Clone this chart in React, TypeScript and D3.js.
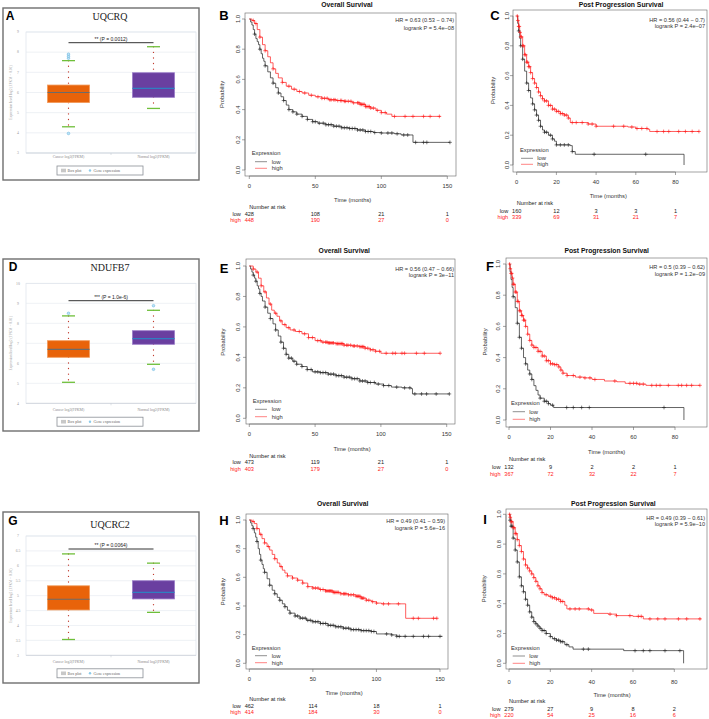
import React from 'react';
import * as d3 from 'd3';

// ================= Box plot data (panels A, D, G) =================
const boxGenes = ['UQCRQ', 'NDUFB7', 'UQCRC2'];
const boxLetters = ['A', 'D', 'G'];
const boxCategories = ['Cancer log2(FPKM)', 'Normal log2(FPKM)'];
const boxSigLabels = ['** (P = 0.0012)', '*** (P = 1.0e-6)', '** (P = 0.0064)'];
const boxYTicksA = [3, 4, 5, 6, 7, 8, 9];
const boxYTicksD = [4, 5, 6, 7, 8, 9, 10];
const boxYTicksG = [3, 3.5, 4, 4.5, 5, 5.5, 6, 6.5, 7];
// [lower whisker, q1, median, q3, upper whisker]
const uqcrqCancer = [4.3, 5.5, 6.0, 6.37, 7.58];
const uqcrqNormal = [5.21, 5.76, 6.2, 6.98, 8.27];
const uqcrqCancerOut = [7.7, 7.8, 7.9, 3.97];
const uqcrqNormalOut: number[] = [];
const ndufb7Cancer = [5.05, 6.3, 6.7, 7.13, 8.37];
const ndufb7Normal = [5.95, 6.95, 7.23, 7.63, 8.65];
const ndufb7CancerOut = [8.5];
const ndufb7NormalOut = [8.88, 5.7];
const uqcrc2Cancer = [3.53, 4.52, 4.88, 5.33, 6.4];
const uqcrc2Normal = [4.44, 4.89, 5.11, 5.5, 6.09];
const uqcrc2CancerOut: number[] = [];
const uqcrc2NormalOut: number[] = [];

// ================= KM data (panels B, C, E, F, H, I) =================
const osTicks = [0, 50, 100, 150];
const ppsTicks = [0, 20, 40, 60, 80];
const probTicks = [0, 0.2, 0.4, 0.6, 0.8, 1.0];
const kmTitles = ['Overall  Survival', 'Post Progression Survival'];

// B: UQCRQ OS
const bLow = [[0,1],[1,0.98],[2,0.96],[3,0.93],[4,0.9],[5,0.87],[6,0.85],[7,0.83],[8,0.8],[9,0.77],[10,0.74],[11,0.72],[12,0.69],[14,0.65],[16,0.61],[18,0.575],[20,0.545],[22,0.51],[24,0.485],[26,0.46],[28,0.43],[30,0.4],[33,0.385],[36,0.37],[40,0.355],[44,0.335],[48,0.32],[52,0.31],[58,0.3],[64,0.29],[70,0.28],[76,0.275],[82,0.265],[88,0.255],[94,0.248],[100,0.245],[110,0.24],[115,0.232],[124,0.183],[152,0.183]];
const bHigh = [[0,1],[2,0.99],[4,0.97],[6,0.93],[8,0.88],[10,0.83],[12,0.79],[14,0.75],[16,0.71],[18,0.67],[20,0.64],[22,0.61],[25,0.58],[28,0.555],[32,0.535],[36,0.52],[40,0.51],[45,0.495],[50,0.485],[55,0.475],[60,0.465],[66,0.46],[72,0.455],[78,0.445],[84,0.435],[88,0.42],[92,0.41],[96,0.395],[100,0.38],[104,0.37],[108,0.355],[145,0.355]];
const bLowCens = [4,8,12,18,22,26,30,33,36,40,44,48,50,53,56,58,60,62,64,66,68,70,72,74,76,78,80,82,84,86,88,90,92,95,100,105,108,112,117,120,126,132,134.5,152];
const bHighCens = [3,5,8,12,18,25,30,34,38,42,47,52,55,57,59,61,62,64,65,67,69,70,72,73,75,77,79,82,83,84,85,86,87,88,89,90,91,92,94,97,100,103,110,118,124,132,137,144];
const bRiskLow = ['428', '108', '21', '1'];
const bRiskHigh = ['448', '190', '27', '0'];
const bHR = ['HR = 0.63 (0.53 \u2212 0.74)', 'logrank P = 5.4e\u221208'];

// C: UQCRQ PPS
const cLow = [[0,1],[0.5,0.95],[1,0.9],[1.5,0.85],[2,0.8],[3,0.71],[4,0.63],[5,0.55],[6,0.5],[7,0.45],[8,0.41],[9,0.37],[10,0.335],[11,0.3],[12,0.26],[13,0.235],[14,0.22],[16,0.2],[18,0.175],[19,0.16],[20,0.135],[27,0.13],[28,0.09],[29.5,0.072],[84.3,0]];
const cHigh = [[0,1],[0.5,0.97],[1,0.93],[1.5,0.89],[2,0.86],[3,0.8],[4,0.74],[5,0.69],[6,0.66],[7,0.62],[8,0.58],[9,0.55],[10,0.52],[11,0.49],[12,0.465],[13,0.445],[14,0.43],[16,0.4],[18,0.375],[20,0.36],[22,0.345],[24,0.335],[26,0.315],[27,0.285],[36,0.275],[40,0.26],[56,0.255],[60,0.245],[66,0.24],[67,0.225],[92,0.225]];
const cLowCens = [1,2,3,5,6,8,9,10,11,12,14,15,17,18,20,22,24,26,28,39,65];
const cHighCens = [0.3,0.6,1,1.3,1.7,2,2.4,3,3.5,4,4.5,5,5.5,6,6.5,7,8,9,10,11,12,13,14,15,16,17,18,19,20,21,22,23,24,25,26,28,30,33,36,38,40,48.8,53.9,58,60.6,63,65.6,70.7,74,76.6,81.6,85,88.4,91.8];
const cRiskLow = ['160', '12', '3', '3', '1'];
const cRiskHigh = ['339', '69', '31', '21', '7'];
const cHR = ['HR = 0.56 (0.44 \u2212 0.7)', 'logrank P = 2.4e\u221207'];

// E: NDUFB7 OS
const eLow = [[0,1],[1,0.98],[2,0.96],[3,0.94],[4,0.92],[5,0.9],[6,0.87],[7,0.85],[8,0.82],[9,0.8],[10,0.77],[12,0.73],[14,0.69],[16,0.655],[18,0.62],[20,0.58],[22,0.54],[24,0.5],[26,0.46],[28,0.42],[30,0.395],[33,0.375],[36,0.355],[40,0.34],[44,0.32],[48,0.305],[54,0.3],[60,0.29],[66,0.28],[72,0.27],[78,0.26],[84,0.245],[90,0.235],[96,0.225],[102,0.215],[108,0.205],[116,0.2],[123,0.195],[124,0.16],[152,0.16]];
const eHigh = [[0,1],[3,0.98],[5,0.96],[7,0.92],[9,0.87],[11,0.83],[13,0.79],[15,0.75],[17,0.71],[19,0.69],[21,0.67],[23,0.64],[25,0.615],[28,0.595],[31,0.58],[35,0.57],[40,0.555],[45,0.53],[50,0.51],[55,0.5],[60,0.495],[66,0.49],[72,0.48],[78,0.475],[84,0.47],[88,0.46],[92,0.45],[96,0.44],[100,0.427],[145,0.427]];
const eLowCens = [3,5,8,12,16,20,24,26,28,30,32,34,36,40,44,47,50,52,54,56,58,60,62,64,66,68,70,72,74,76,78,80,82,84,86,88,90,92,95,98,102,106,112,118,122,125.8,130.9,134.7,142,152];
const eHighCens = [3,6,9,12,16,20,24,27,30,34,38,42,45,48,52,54,56,58,59,60,61,62,63,64,66,67,68,69,70,71,72,74,75,77,79,80,82,84,85,86,87,88,90,92,94,96,99,104,109,111,116,118,127,133,145];
const eRiskLow = ['473', '119', '21', '1'];
const eRiskHigh = ['403', '179', '27', '0'];
const eHR = ['HR = 0.56 (0.47 \u2212 0.66)', 'logrank P = 3e\u221211'];

// F: NDUFB7 PPS
const fLow = [[0,1],[0.5,0.95],[1,0.9],[1.5,0.85],[2,0.79],[3,0.72],[4,0.62],[5,0.53],[6,0.46],[7,0.4],[8,0.36],[9,0.32],[10,0.295],[11,0.26],[12,0.22],[13,0.19],[14,0.16],[15,0.14],[17,0.12],[19,0.105],[20,0.095],[21.5,0.08],[84.3,0]];
const fHigh = [[0,1],[0.5,0.97],[1,0.94],[1.5,0.91],[2,0.87],[3,0.82],[4,0.76],[5,0.7],[6,0.67],[7,0.64],[8,0.6],[9,0.55],[10,0.51],[11,0.48],[12,0.465],[14,0.44],[16,0.41],[18,0.38],[20,0.36],[22,0.355],[24,0.34],[25,0.32],[26,0.3],[28,0.285],[32,0.275],[36,0.27],[40,0.26],[46,0.25],[52,0.245],[56,0.235],[62,0.23],[66,0.222],[92,0.222]];
const fLowCens = [2,4,5,6,8,10,11,15,17,18,19,21,27.8,31,35,38.7,74.7];
const fHighCens = [0.3,0.6,1,1.3,1.7,2,2.4,3,3.5,4,4.5,5,5.5,6,6.5,7,7.5,8,9,10,11,12,13,14,15,16,17,18,19,20,21,22,23,24,25,26,28,31,34.2,36.6,39,41.4,51,58.3,60,61.5,63,64.7,68.8,71,72.8,76.8,81.6,83.2,85.6,88,92];
const fRiskLow = ['132', '9', '2', '2', '1'];
const fRiskHigh = ['367', '72', '32', '22', '7'];
const fHR = ['HR = 0.5 (0.39 \u2212 0.62)', 'logrank P = 1.2e\u221209'];

// H: UQCRC2 OS
const hLow = [[0,1],[1,0.98],[2,0.96],[3,0.94],[4,0.91],[5,0.88],[6,0.85],[7,0.8],[8,0.76],[9,0.72],[10,0.69],[11,0.66],[12,0.635],[14,0.59],[16,0.545],[18,0.51],[20,0.485],[22,0.46],[24,0.44],[26,0.415],[28,0.395],[30,0.37],[32,0.35],[36,0.33],[40,0.315],[45,0.3],[50,0.29],[56,0.278],[62,0.265],[68,0.255],[74,0.245],[80,0.235],[88,0.228],[96,0.222],[100,0.205],[112,0.198],[116,0.188],[152,0.188]];
const hHigh = [[0,1],[2,0.99],[4,0.975],[6,0.94],[8,0.9],[10,0.87],[12,0.84],[14,0.815],[16,0.79],[18,0.76],[20,0.73],[22,0.7],[24,0.675],[26,0.65],[28,0.63],[30,0.61],[34,0.595],[38,0.58],[42,0.56],[46,0.535],[50,0.525],[55,0.515],[60,0.505],[66,0.495],[72,0.485],[78,0.478],[84,0.468],[88,0.455],[92,0.44],[96,0.43],[100,0.42],[104,0.415],[123,0.314],[148,0.314]];
const hLowCens = [3,6,9,12,16,20,24,28,32,36,38,40,42,44,46,48,50,52,54,56,58,60,62,64,66,68,70,72,74,76,78,80,82,84,86,88,90,92,94,96,98,108,112,116,118,122.6,129,137,141,150];
const hHighCens = [3,6,9,12,15,20,25,30,34,38,42,46,50,52,54,56,58,60,61,62,63,64,65,66,67,68,69,70,72,74,75,76,78,80,82,84,85,86,87,88,89,90,92,94,97,100,105.5,109.5,117.3,129,133,144.9,147.5];
const hRiskLow = ['462', '114', '18', '1'];
const hRiskHigh = ['414', '184', '30', '0'];
const hHR = ['HR = 0.49 (0.41 \u2212 0.59)', 'logrank P = 5.6e\u221216'];

// I: UQCRC2 PPS
const iLow = [[0,1],[0.5,0.96],[1,0.92],[2,0.84],[3,0.76],[4,0.68],[5,0.58],[6,0.52],[7,0.48],[8,0.43],[9,0.39],[10,0.345],[11,0.31],[12,0.28],[13,0.265],[14,0.25],[15,0.235],[16,0.22],[18,0.2],[20,0.18],[21,0.165],[23,0.155],[25,0.145],[27,0.125],[29,0.11],[31,0.095],[55.5,0.085],[84.5,0]];
const iHigh = [[0,1],[0.5,0.98],[1,0.95],[2,0.91],[3,0.87],[4,0.83],[5,0.79],[6,0.75],[7,0.7],[8,0.66],[9,0.64],[10,0.62],[11,0.6],[12,0.575],[13,0.55],[14,0.52],[15,0.5],[16,0.475],[17,0.46],[19,0.45],[21,0.44],[23,0.43],[25,0.415],[27,0.39],[28,0.365],[39,0.358],[41,0.335],[48,0.33],[52,0.32],[60,0.315],[65,0.298],[93,0.298]];
const iLowCens = [0.5,1,1.5,2,3,4,5,6,7,8,9,10,11,12,13,14,15,16,17,18,20,22,23,24,25,26,28,36,38.4,61,65,68.2,75.5,82.7];
const iHighCens = [0.3,0.6,1,1.4,2,2.5,3,3.5,4,5,6,7,8,9,10,11,12,13,14,15,16,18,20,21,22,23,24,25,26,29.5,32,34,38.4,40,48.9,52,58.5,62.6,64,68.2,72,75.5,82,86,92.4];
const iRiskLow = ['279', '27', '9', '8', '2'];
const iRiskHigh = ['220', '54', '25', '16', '6'];
const iHR = ['HR = 0.49 (0.39 \u2212 0.61)', 'logrank P = 5.9e\u221210'];

// ================= Layout =================
const SANS = 'Liberation Sans, Arial, Helvetica, sans-serif';
const SERIF = 'Liberation Serif, Times New Roman, serif';

const boxLayouts = [
  { frame: [3, 8, 199, 180], plotTop: 32, plotBottom: 153, title: 19.5, letter: [10, 20], sigY: 42.7, xLabY: 157.5, legY: 170.5 },
  { frame: [3, 259, 199, 431], plotTop: 283.3, plotBottom: 403.3, title: 271, letter: [13, 271], sigY: 300.7, xLabY: 410.5, legY: 421.7 },
  { frame: [3, 512, 199, 683], plotTop: 536, plotBottom: 655.3, title: 528, letter: [13, 525], sigY: 549, xLabY: 663, legY: 673.3 },
];

const kmLayouts = [
  { letter: 'B', lx: 224, ly: 19.5, tx: 347, ty: 6.5, x0: 249.3, x1: 447.3, xMax: 150, y0: 170, y1: 19, box: [245, 456, 13, 176], hrX: 454, hrY: [22, 29.5], yLabX: 238.3, probX: 221.7, xLabY: 188, timeX: 352.7, timeY: 202, nrY: 209, lowY: 215.5, highY: 222, leg: [251.7, 154.7, 255, 267, 161.7, 168.3, 271.7] },
  { letter: 'C', lx: 495, ly: 20, tx: 621, ty: 6.5, x0: 516.7, x1: 675.5, xMax: 80, y0: 165, y1: 16, box: [513, 707, 10, 172], hrX: 705, hrY: [21.5, 28], yLabX: 506.7, probX: 493.3, xLabY: 184, timeX: 608.3, timeY: 198, nrY: 204.5, lowY: 212.5, highY: 218.5, leg: [520, 152, 521, 533, 158.3, 164.3, 537.3] },
  { letter: 'E', lx: 224, ly: 272.5, tx: 344.3, ty: 253, x0: 249.3, x1: 446.7, xMax: 150, y0: 418.3, y1: 266, box: [246, 455, 259, 424], hrX: 454, hrY: [270.5, 276.5], yLabX: 238.3, probX: 223.3, xLabY: 435.5, timeX: 352, timeY: 450.5, nrY: 458, lowY: 463.8, highY: 470.5, leg: [252.7, 402.7, 255, 267, 409.3, 416.7, 271.7] },
  { letter: 'F', lx: 490, ly: 271, tx: 606.7, ty: 252.5, x0: 509, x1: 675, xMax: 80, y0: 420, y1: 264, box: [506, 707, 258, 427], hrX: 705, hrY: [269, 275.5], yLabX: 498.3, probX: 485, xLabY: 439, timeX: 606.7, timeY: 454, nrY: 460.5, lowY: 468.5, highY: 475.5, leg: [511, 405.3, 512.7, 525, 411.7, 419.3, 529.3] },
  { letter: 'H', lx: 224, ly: 525, tx: 342.7, ty: 505.5, x0: 249.3, x1: 440, xMax: 150, y0: 663.3, y1: 520, box: [246, 448, 514, 669], hrX: 445, hrY: [522.7, 530.3], yLabX: 238.3, probX: 223.3, xLabY: 681, timeX: 344, timeY: 694.5, nrY: 701, lowY: 707.7, highY: 713.7, leg: [251.7, 649.7, 255, 267, 655.7, 662.7, 271.7] },
  { letter: 'I', lx: 485, ly: 524, tx: 613.3, ty: 505.5, x0: 509, x1: 674.3, xMax: 80, y0: 663.3, y1: 514.3, box: [506, 707, 509, 669], hrX: 705, hrY: [519.5, 526], yLabX: 499.3, probX: 484, xLabY: 684, timeX: 612, timeY: 697, nrY: 702.7, lowY: 711.3, highY: 717.3, leg: [511, 649.7, 512.7, 525, 656, 663.3, 529.3] },
];

type Curve = number[][];

function stepAt(c: Curve, t: number) {
  let v = c[0][1];
  for (const p of c) {
    if (p[0] <= t) v = p[1];
    else break;
  }
  return v;
}

function Censors({ times, curve, x, y, color }: any) {
  return (
    <g stroke={color} strokeWidth={0.6}>
      {times.map((t: number, i: number) => {
        const cx = x(t);
        const cy = y(stepAt(curve, t));
        return <path key={i} d={`M${cx - 1.9},${cy}H${cx + 1.9}M${cx},${cy - 1.9}V${cy + 1.9}`} />;
      })}
    </g>
  );
}

function KMPanel({ L, title, ticks, low, high, lowCens, highCens, riskLow, riskHigh, hr }: any) {
  const x = d3.scaleLinear().domain([0, L.xMax]).range([L.x0, L.x1]);
  const y = d3.scaleLinear().domain([0, 1]).range([L.y0, L.y1]);
  const line = d3.line<number[]>().x((d) => x(d[0])).y((d) => y(d[1])).curve(d3.curveStepAfter);
  const [bl, br, bt, bb] = L.box;
  const [ex, ey, lx0, lx1, lowLy, highLy, ltx] = L.leg;
  const axisCol = '#666';
  return (
    <g fontFamily={SANS}>
      <text x={L.lx} y={L.ly} fontSize={13} fontWeight="bold" textAnchor="middle" fill="#000">{L.letter}</text>
      <text x={L.tx} y={L.ty} fontSize={6.8} fontWeight="bold" textAnchor="middle" fill="#111">{title}</text>
      <rect x={bl} y={bt} width={br - bl} height={bb - bt} fill="none" stroke={axisCol} strokeWidth={0.6} />
      <g stroke={axisCol} strokeWidth={0.6}>
        <line x1={bl} x2={bl} y1={y(0)} y2={y(1)} />
        {probTicks.map((v) => <line key={v} x1={bl - 3} x2={bl} y1={y(v)} y2={y(v)} />)}
        <line x1={x(0)} x2={x(L.xMax)} y1={bb} y2={bb} />
        {ticks.map((v: number) => <line key={v} x1={x(v)} x2={x(v)} y1={bb} y2={bb + 3} />)}
      </g>
      {probTicks.map((v) => (
        <text key={v} transform={`translate(${L.yLabX},${y(v)}) rotate(-90)`} fontSize={5.8} textAnchor="middle" dy="0.35em" fill="#333">{v.toFixed(1)}</text>
      ))}
      <text transform={`translate(${L.probX},${(y(0) + y(1)) / 2}) rotate(-90)`} fontSize={5.8} textAnchor="middle" dy="0.35em" fill="#333">Probability</text>
      {ticks.map((v: number) => (
        <text key={v} x={x(v)} y={L.xLabY} fontSize={5.8} textAnchor="middle" fill="#333">{v}</text>
      ))}
      <text x={L.timeX} y={L.timeY} fontSize={5.8} textAnchor="middle" fill="#333">Time (months)</text>
      <text x={L.hrX} y={L.hrY[0]} fontSize={5.6} textAnchor="end" fill="#333">{hr[0]}</text>
      <text x={L.hrX} y={L.hrY[1]} fontSize={5.6} textAnchor="end" fill="#333">{hr[1]}</text>
      <path d={line(low) || ''} fill="none" stroke="#222" strokeWidth={0.7} />
      <path d={line(high) || ''} fill="none" stroke="#ff1a1a" strokeWidth={0.7} />
      <Censors times={lowCens} curve={low} x={x} y={y} color="#222" />
      <Censors times={highCens} curve={high} x={x} y={y} color="#ff1a1a" />
      <text x={ex} y={ey} fontSize={5.8} fill="#333">Expression</text>
      <line x1={lx0} x2={lx1} y1={lowLy} y2={lowLy} stroke="#444" strokeWidth={0.6} />
      <line x1={lx0} x2={lx1} y1={highLy} y2={highLy} stroke="#ff3030" strokeWidth={0.6} />
      <text x={ltx} y={lowLy + 2} fontSize={5.8} fill="#333">low</text>
      <text x={ltx} y={highLy + 2} fontSize={5.8} fill="#333">high</text>
      <text x={L.x0} y={L.nrY} fontSize={5.6} fill="#222">Number at risk</text>
      <text x={L.x0 - 8.5} y={L.lowY} fontSize={5.6} textAnchor="end" fill="#222">low</text>
      <text x={L.x0 - 8.5} y={L.highY} fontSize={5.6} textAnchor="end" fill="#ff1a1a">high</text>
      {ticks.map((v: number, i: number) => (
        <g key={v}>
          <text x={x(v)} y={L.lowY} fontSize={5.6} textAnchor="middle" fill="#222">{riskLow[i]}</text>
          <text x={x(v)} y={L.highY} fontSize={5.6} textAnchor="middle" fill="#ff1a1a">{riskHigh[i]}</text>
        </g>
      ))}
    </g>
  );
}

function BoxGroup({ stats, outs, cx, w, y, fill, edge, medCol }: any) {
  const [lo, q1, med, q3, hi] = stats;
  return (
    <g>
      <line x1={cx} x2={cx} y1={y(hi)} y2={y(q3)} stroke="#c0392b" strokeWidth={1.3} strokeDasharray="0.1,5.5" strokeLinecap="round" />
      <line x1={cx} x2={cx} y1={y(q1)} y2={y(lo)} stroke="#c0392b" strokeWidth={1.3} strokeDasharray="0.1,5.5" strokeLinecap="round" />
      <rect x={cx - w / 2} y={y(q3)} width={w} height={y(q1) - y(q3)} fill={fill} stroke={edge} strokeWidth={0.8} />
      <line x1={cx - w / 2} x2={cx + w / 2} y1={y(med)} y2={y(med)} stroke={medCol} strokeWidth={1.2} />
      <line x1={cx - 6.5} x2={cx + 6.5} y1={y(hi)} y2={y(hi)} stroke="#6fbf3a" strokeWidth={1.3} />
      <line x1={cx - 6.5} x2={cx + 6.5} y1={y(lo)} y2={y(lo)} stroke="#6fbf3a" strokeWidth={1.3} />
      {outs.map((v: number, i: number) => (
        <circle key={i} cx={cx} cy={y(v)} r={1.3} fill="#bfe3f5" stroke="#6bb8e0" strokeWidth={0.6} />
      ))}
    </g>
  );
}

function BoxPanel({ L, gene, letter, sig, yTicks, cancer, normal, cancerOut, normalOut }: any) {
  const [fx0, fy0, fx1, fy1] = L.frame;
  const plotL = 26, plotR = 196;
  const x = d3.scaleBand().domain(boxCategories).range([plotL, plotR]);
  const y = d3.scaleLinear().domain([yTicks[0], yTicks[yTicks.length - 1]]).range([L.plotBottom, L.plotTop]);
  const c0 = (x(boxCategories[0]) || 0) + x.bandwidth() / 2;
  const c1 = (x(boxCategories[1]) || 0) + x.bandwidth() / 2;
  const w = 42;
  const legCx = 100;
  return (
    <g>
      <rect x={fx0} y={fy0} width={fx1 - fx0} height={fy1 - fy0} fill="#fff" stroke="#6e6e6e" strokeWidth={1.4} />
      <text x={L.letter[0]} y={L.letter[1]} fontFamily={SANS} fontSize={12} fontWeight="bold" textAnchor="middle">{letter}</text>
      <text x={110} y={L.title} fontFamily={SERIF} fontSize={10} textAnchor="middle" fill="#222">{gene}</text>
      <rect x={plotL} y={L.plotTop} width={plotR - plotL} height={L.plotBottom - L.plotTop} fill="#fff" stroke="#d8dde6" strokeWidth={0.6} />
      {yTicks.map((v: number) => (
        <g key={v}>
          <line x1={plotL} x2={plotR} y1={y(v)} y2={y(v)} stroke="#e3e7ee" strokeWidth={0.6} />
          <text x={18} y={y(v)} dy="0.35em" fontFamily={SERIF} fontSize={3.8} textAnchor="middle" fill="#9a9a9a">{v}</text>
        </g>
      ))}
      <line x1={plotL} x2={plotR} y1={L.plotBottom} y2={L.plotBottom} stroke="#c8ccd4" strokeWidth={0.6} />
      <line x1={(plotL + plotR) / 2} x2={(plotL + plotR) / 2} y1={L.plotBottom} y2={L.plotBottom + 2} stroke="#c8ccd4" strokeWidth={0.6} />
      <text transform={`translate(${11.5},${(L.plotTop + L.plotBottom) / 2}) rotate(-90)`} fontFamily={SERIF} fontSize={3.6} textAnchor="middle" fill="#a0a0a0">Expression level log2 (FPKM + 0.01)</text>
      {boxCategories.map((c, i) => (
        <text key={c} x={i === 0 ? c0 : c1} y={L.xLabY} fontFamily={SERIF} fontSize={3.8} textAnchor="middle" fill="#8a8a8a">{c}</text>
      ))}
      <line x1={c0} x2={c1} y1={L.sigY} y2={L.sigY} stroke="#333" strokeWidth={1} />
      <text x={(c0 + c1) / 2} y={L.sigY - 1.8} fontFamily={SANS} fontSize={5} textAnchor="middle" fill="#222">{sig}</text>
      <BoxGroup stats={cancer} outs={cancerOut} cx={c0} w={w} y={y} fill="#e8630a" edge="#f29a5a" medCol="#6b6b6b" />
      <BoxGroup stats={normal} outs={normalOut} cx={c1} w={w} y={y} fill="#6a3fa0" edge="#9a7cc8" medCol="#2f7fc1" />
      <rect x={legCx - 43} y={L.legY - 4.5} width={86} height={9} fill="#fff" stroke="#8a8f96" strokeWidth={0.8} />
      <rect x={legCx - 39} y={L.legY - 1.8} width={5} height={3.6} fill="#c8c8c8" />
      <text x={legCx - 32.5} y={L.legY} dy="0.35em" fontFamily={SERIF} fontSize={4} fill="#666">Box plot</text>
      <circle cx={legCx - 10} cy={L.legY} r={1.2} fill="#8ccbea" />
      <text x={legCx - 6.5} y={L.legY} dy="0.35em" fontFamily={SERIF} fontSize={4} fill="#666">Gene expression</text>
    </g>
  );
}

export default function App() {
  const boxData = [
    { cancer: uqcrqCancer, normal: uqcrqNormal, cancerOut: uqcrqCancerOut, normalOut: uqcrqNormalOut, yTicks: boxYTicksA },
    { cancer: ndufb7Cancer, normal: ndufb7Normal, cancerOut: ndufb7CancerOut, normalOut: ndufb7NormalOut, yTicks: boxYTicksD },
    { cancer: uqcrc2Cancer, normal: uqcrc2Normal, cancerOut: uqcrc2CancerOut, normalOut: uqcrc2NormalOut, yTicks: boxYTicksG },
  ];
  const km = [
    { title: kmTitles[0], ticks: osTicks, low: bLow, high: bHigh, lowCens: bLowCens, highCens: bHighCens, riskLow: bRiskLow, riskHigh: bRiskHigh, hr: bHR },
    { title: kmTitles[1], ticks: ppsTicks, low: cLow, high: cHigh, lowCens: cLowCens, highCens: cHighCens, riskLow: cRiskLow, riskHigh: cRiskHigh, hr: cHR },
    { title: kmTitles[0], ticks: osTicks, low: eLow, high: eHigh, lowCens: eLowCens, highCens: eHighCens, riskLow: eRiskLow, riskHigh: eRiskHigh, hr: eHR },
    { title: kmTitles[1], ticks: ppsTicks, low: fLow, high: fHigh, lowCens: fLowCens, highCens: fHighCens, riskLow: fRiskLow, riskHigh: fRiskHigh, hr: fHR },
    { title: kmTitles[0], ticks: osTicks, low: hLow, high: hHigh, lowCens: hLowCens, highCens: hHighCens, riskLow: hRiskLow, riskHigh: hRiskHigh, hr: hHR },
    { title: kmTitles[1], ticks: ppsTicks, low: iLow, high: iHigh, lowCens: iLowCens, highCens: iHighCens, riskLow: iRiskLow, riskHigh: iRiskHigh, hr: iHR },
  ];
  return (
    <svg width={709} height={719} viewBox="0 0 709 719" style={{ position: 'absolute', left: 0, top: 0, background: '#fff' }}>
      <rect x={0} y={0} width={709} height={719} fill="#fff" />
      {boxLayouts.map((L, i) => (
        <BoxPanel key={i} L={L} gene={boxGenes[i]} letter={boxLetters[i]} sig={boxSigLabels[i]} {...boxData[i]} />
      ))}
      {kmLayouts.map((L, i) => (
        <KMPanel key={i} L={L} {...km[i]} />
      ))}
    </svg>
  );
}
